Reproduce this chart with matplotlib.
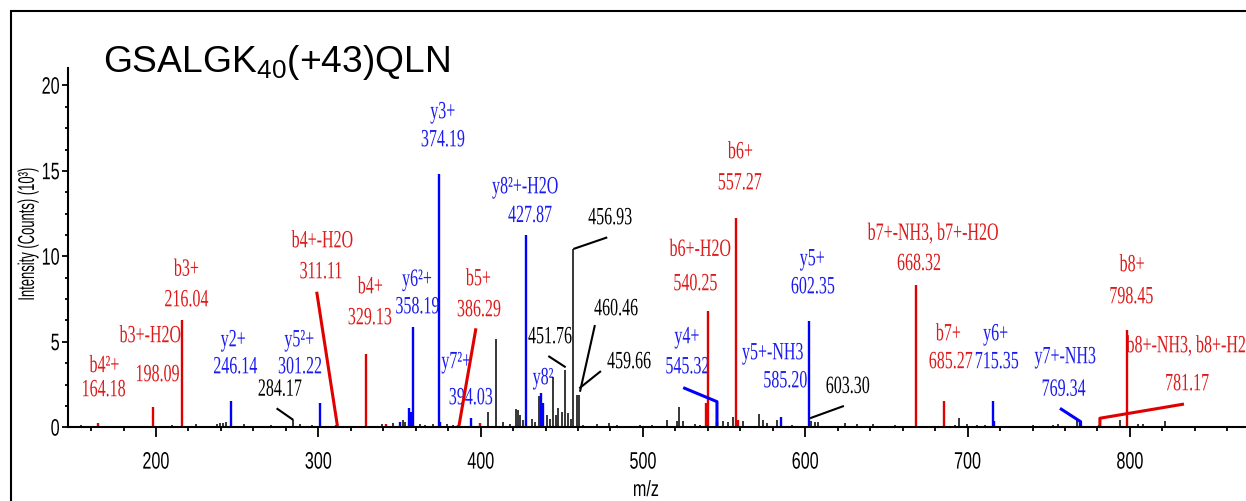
import matplotlib
matplotlib.use('Agg')
import matplotlib.pyplot as plt
from matplotlib.ticker import MultipleLocator
from matplotlib.textpath import TextPath
from matplotlib.patches import PathPatch, Rectangle
from matplotlib.font_manager import FontProperties
from matplotlib.transforms import Affine2D, ScaledTranslation, blended_transform_factory

# peaks (m/z, intensity in 10^3 counts)
black_mz = [153.6, 171.0, 210.0, 224.6, 231.0, 237.4, 239.4, 241.1, 242.9, 254.2, 262.0, 271.0,
            284.17, 288.7, 296.3, 306.0, 339.0, 346.2, 352.0, 353.5, 362.6, 366.0, 370.8, 379.0,
            383.0, 404.3, 409.4, 414.0, 418.0, 421.8, 422.8, 424.2, 426.3, 431.4, 433.5, 435.9,
            440.7, 442.7, 444.4, 446.4, 447.9, 449.9, 451.76, 454.0, 455.5, 456.93, 459.66, 460.46,
            463.0, 471.5, 479.3, 483.8, 498.2, 505.4, 514.6, 520.8, 522.4, 524.8, 532.0, 535.1,
            549.5, 552.6, 555.3, 561.4, 571.6, 574.1, 576.2, 582.7, 591.6, 603.30, 606.0, 608.0,
            624.4, 631.6, 641.8, 655.2, 692.2, 694.7, 699.4, 705.6, 710.7, 740.4, 752.8, 755.9,
            767.2, 793.9, 805.1, 808.2, 821.6]
black_int = [0.15, 0.1, 0.15, 0.2, 0.1, 0.2, 0.25, 0.25, 0.3, 0.2, 0.1, 0.15,
             0.4, 0.2, 0.15, 0.1, 0.2, 0.25, 0.45, 0.3, 0.2, 0.15, 0.2, 0.2,
             0.15, 0.9, 5.15, 0.3, 0.2, 1.05, 1.0, 0.7, 0.4, 0.5, 0.3, 1.85,
             0.7, 0.5, 2.95, 0.7, 1.1, 0.9, 3.35, 0.85, 0.5, 10.45, 1.9, 1.9,
             0.15, 0.2, 0.25, 0.15, 0.15, 0.15, 0.4, 0.35, 1.2, 0.35, 0.2, 0.15,
             0.35, 0.3, 0.6, 0.35, 0.8, 0.45, 0.25, 0.45, 0.15, 0.35, 0.3, 0.3,
             0.25, 0.2, 0.2, 0.15, 0.15, 0.55, 0.2, 0.15, 0.15, 0.15, 0.15, 0.2,
             0.4, 0.4, 0.2, 0.2, 0.35]

red_mz = [164.18, 198.09, 216.04, 311.11, 329.13, 342.0, 386.29, 399.6, 538.9, 540.25,
          557.27, 558.3, 668.32, 685.27, 781.17, 798.45]
red_int = [0.25, 1.2, 6.3, 0.15, 4.3, 0.2, 0.15, 0.25, 1.4, 6.8,
           12.25, 0.4, 8.3, 1.55, 0.15, 5.7]

blue_mz = [246.14, 301.22, 350.5, 355.9, 356.9, 358.19, 374.19, 375.2, 394.03, 427.87,
           437.2, 438.2, 545.32, 585.20, 602.35, 715.35, 716.4, 769.34]
blue_int = [1.55, 1.45, 0.3, 1.1, 0.9, 5.85, 14.8, 0.3, 0.55, 11.25,
            2.0, 1.4, 0.3, 0.6, 6.2, 1.55, 0.35, 0.3]

# annotation texts: (text, m/z, intensity, colour key, anchor)
ion_labels = [
    ('b4²+', 168.0, 3.71, 'r', 'center'),
    ('b3+-H2O', 196.3, 5.46, 'r', 'center'),
    ('b3+', 218.5, 9.35, 'r', 'center'),
    ('y2+', 247.4, 5.22, 'b', 'center'),
    ('y5²+', 288.1, 5.22, 'b', 'center'),
    ('b4+-H2O', 302.3, 11.01, 'r', 'center'),
    ('b4+', 331.8, 8.32, 'r', 'center'),
    ('y6²+', 360.6, 8.76, 'b', 'center'),
    ('y3+', 376.5, 18.56, 'b', 'center'),
    ('b5+', 398.4, 8.79, 'r', 'center'),
    ('y7²+', 384.8, 3.94, 'b', 'center'),
    ('y8²+-H2O', 427.3, 14.17, 'b', 'center'),
    ('y8²', 438.4, 3.0, 'b', 'center'),
    ('y4+', 526.9, 5.40, 'b', 'center'),
    ('b6+-H2O', 535.1, 10.51, 'r', 'center'),
    ('b6+', 559.8, 16.22, 'r', 'center'),
    ('y5+', 604.1, 9.96, 'b', 'center'),
    ('y5+-NH3', 579.8, 4.46, 'b', 'center'),
    ('b7+-NH3, b7+-H2O', 638.4, 11.45, 'r', 'left'),
    ('b7+', 687.9, 5.57, 'r', 'center'),
    ('y6+', 717.1, 5.57, 'b', 'center'),
    ('y7+-NH3', 760.0, 4.23, 'b', 'center'),
    ('b8+', 801.1, 9.61, 'r', 'center'),
    ('b8+-NH3, b8+-H2O', 797.9, 4.87, 'r', 'left'),
]
value_labels = [
    ('164.18', 168.0, 2.30, 'r'),
    ('198.09', 201.2, 3.18, 'r'),
    ('216.04', 218.9, 7.56, 'r'),
    ('246.14', 249.0, 3.64, 'b'),
    ('301.22', 288.7, 3.64, 'b'),
    ('284.17', 276.4, 2.33, 'k'),
    ('311.11', 301.6, 9.20, 'r'),
    ('329.13', 331.8, 6.51, 'r'),
    ('358.19', 361.1, 7.15, 'b'),
    ('374.19', 376.8, 16.92, 'b'),
    ('386.29', 399.0, 6.98, 'r'),
    ('394.03', 394.0, 1.83, 'b'),
    ('427.87', 430.4, 12.49, 'b'),
    ('451.76', 442.7, 5.40, 'k'),
    ('456.93', 479.7, 12.36, 'k'),
    ('460.46', 483.4, 7.04, 'k'),
    ('459.66', 491.4, 3.94, 'k'),
    ('545.32', 527.4, 3.64, 'b'),
    ('540.25', 532.4, 8.50, 'r'),
    ('557.27', 559.8, 14.40, 'r'),
    ('602.35', 604.7, 8.32, 'b'),
    ('585.20', 587.8, 2.82, 'b'),
    ('603.30', 626.2, 2.49, 'k'),
    ('668.32', 670.0, 9.68, 'r'),
    ('685.27', 689.7, 3.94, 'r'),
    ('715.35', 718.1, 3.94, 'b'),
    ('769.34', 759.4, 2.33, 'b'),
    ('798.45', 801.0, 7.74, 'r'),
    ('781.17', 835.4, 2.65, 'r'),
]

# leader lines from labels to peaks
leaders = [
    ('k', [274.3, 284.6], [1.11, 0.43]),
    ('r', [299.0, 311.9], [7.93, 0.0]),
    ('r', [397.1, 386.5], [5.79, 0.0]),
    ('k', [441.7, 452.4], [4.17, 3.51]),
    ('k', [478.0, 457.1], [11.11, 10.43]),
    ('k', [470.4, 461.2], [5.98, 2.08]),
    ('k', [474.1, 460.8], [3.29, 2.28]),
    ('b', [524.8, 545.6, 545.6], [2.32, 1.50, 0.0]),
    ('k', [623.8, 602.9], [1.25, 0.53]),
    ('b', [756.9, 769.6, 769.6], [1.11, 0.33, 0.0]),
    ('r', [833.3, 781.5, 781.5], [1.36, 0.53, 0.0]),
]

text_colors = {'r': '#dd1a1a', 'b': '#1a1aee', 'k': '#000000'}
line_colors = {'r': '#e00000', 'b': '#0000ff', 'k': '#000000'}

W, H = 1246, 501
fig = plt.figure(figsize=(W / 100, H / 100), dpi=100)
ax = fig.add_axes([68 / W, (H - 427.3) / H, (W - 68) / W, 359.0 / H])


def put_text(x, y, s, trans, color='black', family='Liberation Serif', size=16,
             sx=1.0, sy=1.55, ha='center', rot=0, dx=0, dy=0):
    # text drawn as a path so it can be stretched like the original
    fp = FontProperties(family=family)
    path = TextPath((0, 0), s, size=size, prop=fp)
    ext = path.get_extents()
    cap = TextPath((0, 0), '0', size=size, prop=fp).get_extents().y1
    if ha == 'center':
        x0 = -(ext.x0 + ext.x1) / 2
    elif ha == 'left':
        x0 = -ext.x0
    else:
        x0 = -ext.x1
    tr = (Affine2D().translate(x0, -cap / 2).scale(sx, sy).rotate_deg(rot).translate(dx, dy)
          + ScaledTranslation(x, y, trans))
    patch = PathPatch(path, transform=tr, facecolor=color, edgecolor='none', clip_on=False)
    ax.add_artist(patch)


ax.vlines(black_mz, 0, black_int, color='black', lw=1.1)
ax.vlines(red_mz, 0, red_int, color=line_colors['r'], lw=1.7)
ax.vlines(blue_mz, 0, blue_int, color=line_colors['b'], lw=1.7)

for c, xs, ys in leaders:
    ax.plot(xs, ys, color=line_colors[c], lw=1.5 if c == 'k' else 2.2,
            solid_capstyle='butt', clip_on=False)

for s, x, y, c, anchor in ion_labels:
    put_text(x, y, s, ax.transData, color=text_colors[c], ha=anchor)
for s, x, y, c in value_labels:
    put_text(x, y, s, ax.transData, color=text_colors[c])

ax.set_xlim(145.8, 871.5)
ax.set_ylim(0, 21)
for side in ['top', 'right']:
    ax.spines[side].set_visible(False)
for side in ['left', 'bottom']:
    ax.spines[side].set_linewidth(1.5)

ax.set_xticks(range(200, 900, 100))
ax.xaxis.set_minor_locator(MultipleLocator(20))
ax.set_yticks(range(0, 25, 5))
ax.yaxis.set_minor_locator(MultipleLocator(1.25))
ax.tick_params(which='both', direction='out', width=1.3, labelbottom=False, labelleft=False)
ax.tick_params(axis='x', which='major', length=7)
ax.tick_params(axis='x', which='minor', length=3)
ax.tick_params(axis='y', which='major', length=4)
ax.tick_params(axis='y', which='minor', length=2.5)

xt = blended_transform_factory(ax.transData, ax.transAxes)
yt = blended_transform_factory(ax.transAxes, ax.transData)
for v in range(200, 900, 100):
    put_text(v, 0, str(v), xt, family='Liberation Sans', size=17, sx=0.95, sy=1.4, dy=-33)
for v in range(0, 25, 5):
    put_text(0, v, str(v), yt, family='Liberation Sans', size=17, sx=0.95, sy=1.4,
             ha='right', dx=-9)
put_text(501.9, 0, 'm/z', xt, family='Liberation Sans', size=17, sx=0.95, sy=1.3, dy=-61)
put_text(26 / W, 1 - 234 / H, 'Intensity (Counts) (10³)', fig.transFigure,
         family='Liberation Sans', size=13, sx=1.0, sy=1.75, rot=90)

fig.text(103 / W, 1 - 71.7 / H, r'GSALGK$_{\mathregular{40}}$(+43)QLN', fontsize=26.8,
         family='Liberation Sans', va='baseline', ha='left')

fig.add_artist(Rectangle((10.5 / W, -1.0), 2.0, 2.0 - 11 / H, transform=fig.transFigure,
                         fill=False, lw=1.5, edgecolor='black'))

fig.savefig('out.png', dpi=100)
